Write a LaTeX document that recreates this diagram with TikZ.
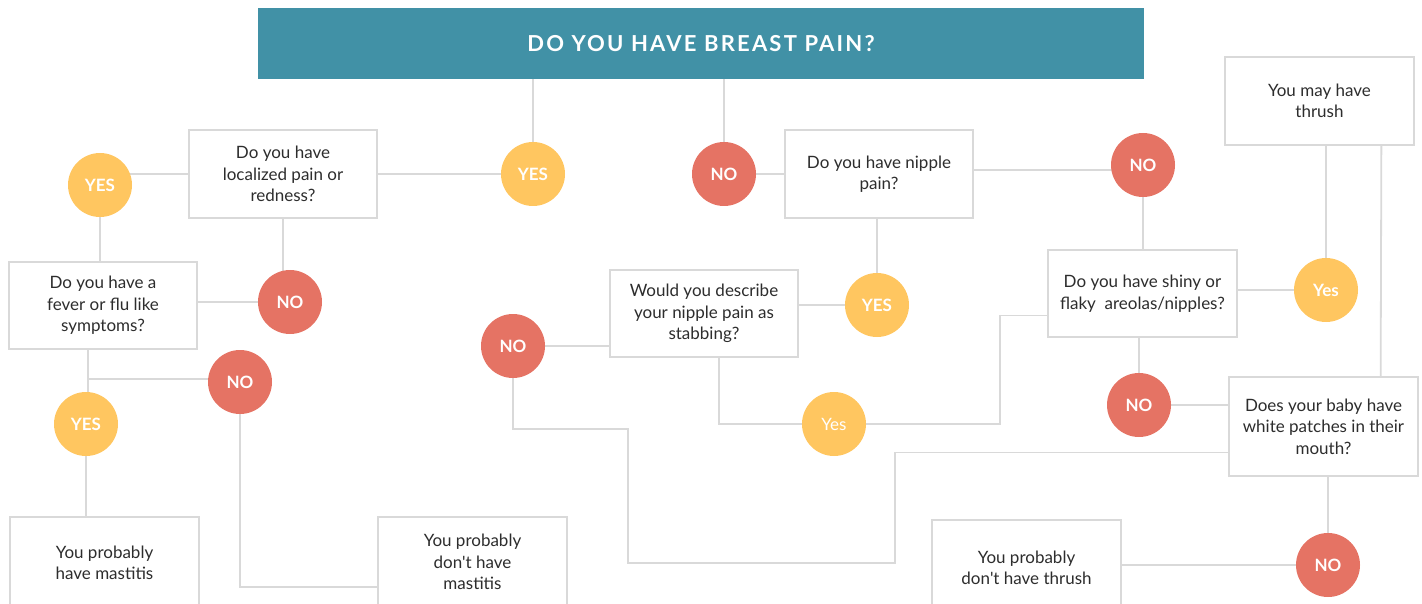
\documentclass[tikz,border=0pt]{standalone}
\usepackage{fontspec}
\setmainfont{Lato}
\usetikzlibrary{backgrounds}

\definecolor{headblue}{RGB}{65,145,166}
\definecolor{yesyellow}{RGB}{255,198,96}
\definecolor{nored}{RGB}{229,115,100}
\definecolor{linegray}{RGB}{217,217,217}
\definecolor{textgray}{RGB}{45,45,45}

\tikzset{every picture/.style={line width=0.75pt}}
\tikzset{
  qbox/.style={draw=linegray, line width=1.8pt, fill=white, minimum width=188pt, minimum height=88pt,
    inner sep=0pt, align=center, text=textgray, font=\fontsize{17}{21.5}\selectfont},
  yesdot/.style={circle, fill=yesyellow, minimum size=64pt, inner sep=0pt, text=white,
    font=\fontsize{17}{20}\selectfont\bfseries},
  nodot/.style={yesdot, fill=nored},
  link/.style={draw=linegray, line width=1.8pt}
}

\begin{document}
\begin{tikzpicture}[x=1pt,y=1pt,yscale=-1,xscale=1]
\clip (0,0) rectangle (1422,604);

%Shape: Rectangle [title]
\node (title) [fill=headblue, minimum width=886pt, minimum height=71pt, text=white,
  font=\fontsize{22}{26}\selectfont\bfseries\addfontfeature{LetterSpace=10}] at (701,43.5) {DO YOU HAVE BREAST PAIN?};

% Question boxes
\node (q1) [qbox] at (283,174) {Do you have\\localized pain or\\redness?};
\node (q2) [qbox] at (879,174) {Do you have nipple\\pain?};
\node (q3) [qbox, minimum height=87pt] at (103,305.5) {Do you have a\\fever or flu like\\symptoms?};
\node (q4) [qbox, minimum height=87pt] at (704,313.5) {Would you describe\\your nipple pain as\\stabbing?};
\node (q5) [qbox, minimum width=189pt, minimum height=87pt] at (1142.5,293.5) {Do you have shiny or\\flaky\ \ areolas/nipples?};
\node (q6) [qbox, minimum width=189pt, minimum height=99pt] at (1323.5,426.5) {Does your baby have\\white patches in their\\mouth?};

% Result boxes
\node (r1) [qbox, minimum width=189pt] at (1319.5,101) {You may have\\thrush};
\node (r2) [qbox, minimum width=189pt, minimum height=92pt] at (104.5,563) {You probably\\have mastitis};
\node (r3) [qbox, minimum width=189pt, minimum height=90pt] at (472.5,562) {You probably\\don\textquotesingle t have\\mastitis};
\node (r4) [qbox, minimum width=189pt, minimum height=96pt] at (1026.5,568) {You probably\\don\textquotesingle t have thrush};

% Answer dots
\node (yes1) [yesdot] at (533,174) {YES};
\node (no1) [nodot] at (724,174) {NO};
\node (yes2) [yesdot] at (100,185) {YES};
\node (no2) [nodot] at (290,302) {NO};
\node (no3) [nodot] at (240,382) {NO};
\node (yes3) [yesdot] at (86,424) {YES};
\node (no4) [nodot] at (513,346) {NO};
\node (yes4) [yesdot] at (877,305) {YES};
\node (yes5) [yesdot, font=\fontsize{17}{20}\selectfont] at (834,424) {Yes};
\node (no5) [nodot] at (1143,165) {NO};
\node (yes6) [yesdot] at (1326,290) {Yes};
\node (no6) [nodot] at (1139,405) {NO};
\node (no7) [nodot] at (1328,565) {NO};

% Bends
\coordinate (fork3) at (88,379);
\coordinate (bend5) at (1000,424);
\coordinate (n4a) at (628,429);
\coordinate (n4b) at (895,563);

\begin{pgfonlayer}{background}
%Straight Lines
\draw [link] (title.south -| yes1) -- (yes1);
\draw [link] (title.south -| no1) -- (no1);
\draw [link] (q1) -- (yes1);
\draw [link] (q1) -- (q1 -| yes2);
\draw [link] (yes2) -- (yes2 |- q3);
\draw [link] (q1) -- (q1 |- no2);
\draw [link] (no2) -- (no2 -| q3);
\draw [link] (q3.south -| fork3) -- (fork3 |- yes3);
\draw [link] (fork3) -- (fork3 -| no3);
\draw [link] (yes3) -- (yes3 |- r2);
\draw [link] (no3) |- ([yshift=25pt]r3.west);
\draw [link] (no1) -- (q2);
\draw [link] ([yshift=-4pt]q2.east) -| (no5);
\draw [link] (no5) -- (no5 |- q5);
\draw [link] (yes6) -- (yes6 -| q5);
\draw [link] (yes6) -- (yes6 |- r1);
\draw [link] ([xshift=57pt]q6.center) -- ([xshift=62pt]r1.center);
\draw [link] (no6) -- (no6 |- q5);
\draw [link] (no6) -- (no6 -| q6);
\draw [link] (no7) -- (no7 |- q6);
\draw [link] (no7) -- (no7 -| r4);
\draw [link] (yes4) -- (yes4 -| q4);
\draw [link] (yes4) -- (yes4 |- q2);
\draw [link] (no4) -- (no4 -| q4);
\draw [link] ([xshift=15pt]q4.center) |- (yes5);
\draw [link] (yes5) -- (bend5) |- ([yshift=22pt]q5.center);
\draw [link] (no4) |- (n4a) |- (n4b) |- ([yshift=26pt]q6.center);
\end{pgfonlayer}

\end{tikzpicture}
\end{document}
